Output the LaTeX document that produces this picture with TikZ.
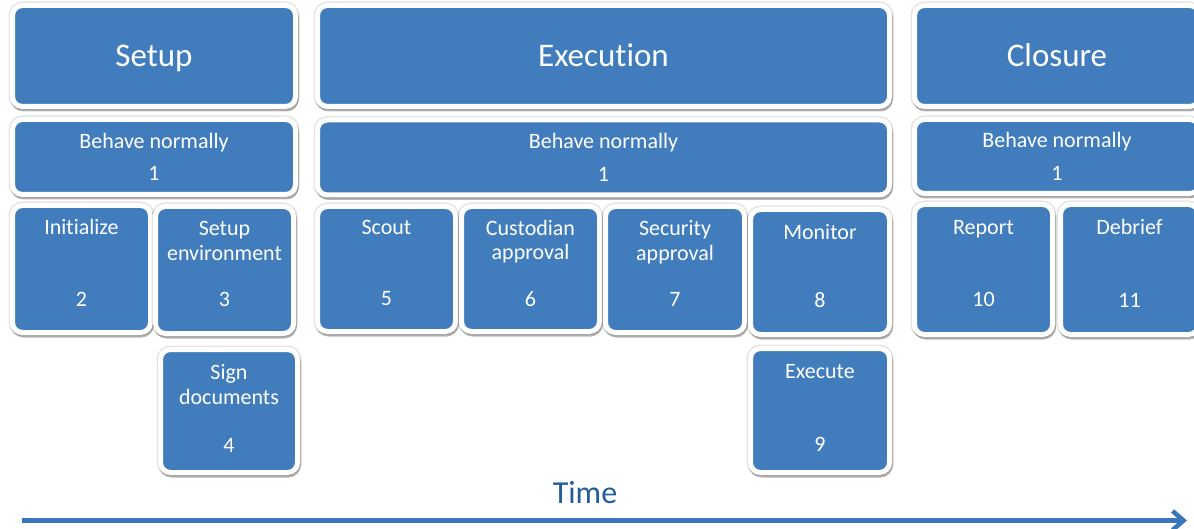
\documentclass[tikz,border=0pt]{standalone}
\usepackage{fontspec}
\setmainfont{Carlito}[Ligatures={NoCommon}]
\usetikzlibrary{arrows.meta}

\definecolor{boxblue}{RGB}{65,125,189}
\definecolor{timeblue}{RGB}{34,92,154}
\definecolor{arrowblue}{RGB}{58,118,186}

% extra depth under the number line so the text lines sit high in a card
\newcommand{\numline}[2][12pt]{#2\rule[-#1]{0pt}{#1}}

\tikzset{
  card/.style={
    rectangle, rounded corners=10pt,
    fill=boxblue, draw=white, line width=5pt,
    text=white, align=center, inner sep=0pt,
    preaction={draw=black, draw opacity=0.10, line width=8pt},
    preaction={draw=black, fill=black, draw opacity=0.28, fill opacity=0.28,
               transform canvas={shift={(1pt,-2.5pt)}}}
  },
  phase/.style={card, font=\fontsize{33}{38}\selectfont, text height=21.3pt, text depth=0pt},
  task/.style={card, font=\fontsize{22}{24.5}\selectfont},
  timelabel/.style={text=timeblue, font=\fontsize{32}{36}\selectfont, inner sep=0pt, anchor=base},
  timearrow/.style={draw=arrowblue, line width=4.5pt,
    -{Straight Barb[length=11pt, width=19pt]}}
}

\begin{document}
\begin{tikzpicture}[x=1pt, y=-1pt]
  \clip (0,0) rectangle (1194,529);
  \fill[white] (0,0) rectangle (1194,529);

  % phase headers
  \node[phase, minimum width=283pt, minimum height=101pt] (setup) at (154,56) {Setup};
  \node[phase, minimum width=572pt, minimum height=101pt] (execution) at (603.5,56) {Execution};
  \node[phase, minimum width=285pt, minimum height=101pt] (closure) at (1057,56) {Closure};

  % continuous activity in every phase
  \node[task, minimum width=283pt, minimum height=75pt] (bn1) at (154,157) {Behave normally\\[8pt]1};
  \node[task, minimum width=572pt, minimum height=75pt] (bn2) at (603.5,157.5) {Behave normally\\[8pt]1};
  \node[task, minimum width=285pt, minimum height=74pt] (bn3) at (1057,156.5) {Behave normally\\[8pt]1};

  % setup tasks
  \node[task, minimum width=138pt, minimum height=127pt] (init) at (81.5,269) {Initialize\\[47pt]\numline{2}};
  \node[task, minimum width=138pt, minimum height=127pt] (env) at (224.5,270) {Setup\\environment\\[22pt]\numline{3}};
  \node[task, minimum width=137pt, minimum height=123pt] (sign) at (229,411) {Sign\\documents\\[24pt]\numline[5pt]{4}};

  % execution tasks
  \node[task, minimum width=138pt, minimum height=125pt] (scout) at (386.5,269) {Scout\\[47pt]\numline{5}};
  \node[task, minimum width=138pt, minimum height=125pt] (cust) at (530.5,269) {Custodian\\approval\\[22pt]\numline{6}};
  \node[task, minimum width=139pt, minimum height=126pt] (sec) at (675,269.5) {Security\\approval\\[22pt]\numline{7}};
  \node[task, minimum width=139pt, minimum height=125pt] (mon) at (820,272) {Monitor\\[44pt]\numline{8}};
  \node[task, minimum width=139pt, minimum height=124pt] (exec) at (820,410.5) {Execute\\[49pt]\numline[5pt]{9}};

  % closure tasks
  \node[task, minimum width=138pt, minimum height=130pt] (report) at (983.5,269.5) {Report\\[48pt]\numline{10}};
  \node[task, minimum width=138pt, minimum height=130pt] (debrief) at (1129.5,269.5) {Debrief\\[48pt]\numline{11}};

  % time axis
  \node[timelabel] (time) at (585,503) {Time};
  \coordinate (tstart) at (22,520.5);
  \coordinate (tend) at (1187,520.5);
  \draw[timearrow] (tstart) -- (tend);
\end{tikzpicture}
\end{document}
